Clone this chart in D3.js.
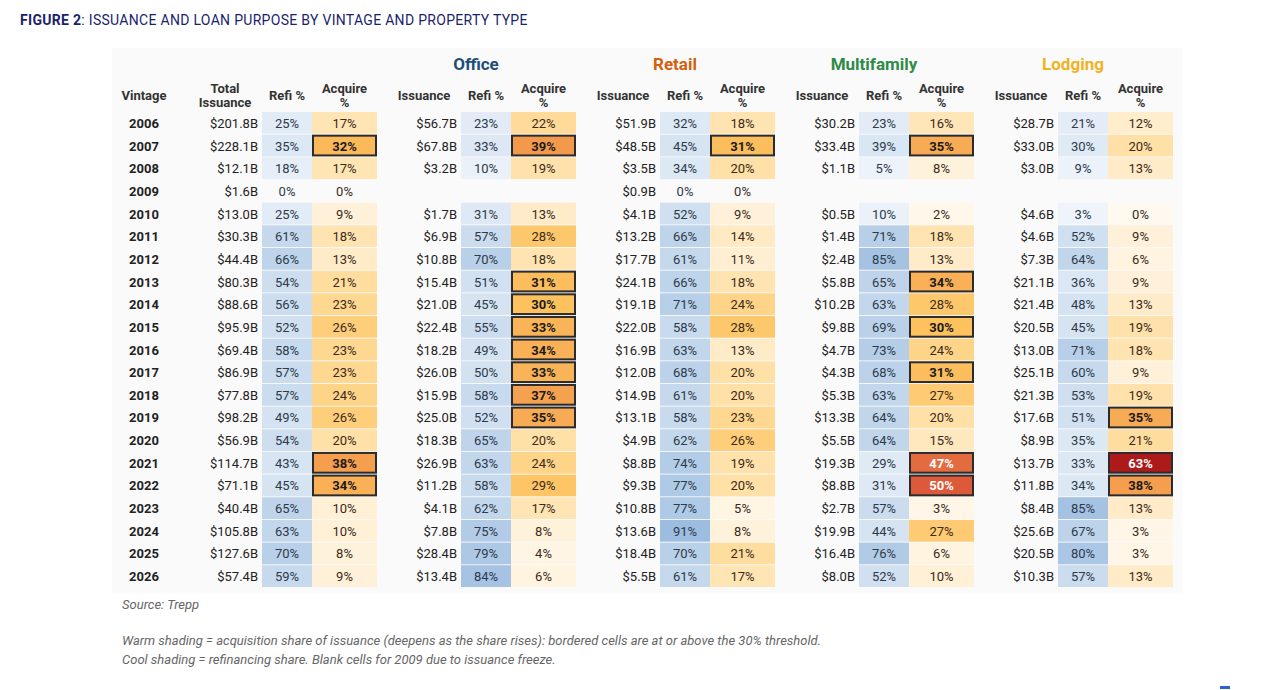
<!DOCTYPE html>
<html><head><meta charset="utf-8">
<script src="https://cdn.jsdelivr.net/npm/d3@7"></script>
<style>body{margin:0;background:#fff;font-family:Roboto,"Liberation Sans",sans-serif}</style>
</head><body>
<svg id="chart" width="1268" height="690"></svg>
<script>
(function () {

    const years = [2006,2007,2008,2009,2010,2011,2012,2013,2014,2015,2016,2017,2018,2019,2020,2021,2022,2023,2024,2025,2026];

    // issuance $B, refi %, acquire %  (null = blank)
    const totalIss = [201.8,228.1,12.1,1.6,13.0,30.3,44.4,80.3,88.6,95.9,69.4,86.9,77.8,98.2,56.9,114.7,71.1,40.4,105.8,127.6,57.4];
    const totalRefi = [25,35,18,0,25,61,66,54,56,52,58,57,57,49,54,43,45,65,63,70,59];
    const totalAcq = [17,32,17,0,9,18,13,21,23,26,23,23,24,26,20,38,34,10,10,8,9];

    const officeIss = [56.7,67.8,3.2,null,1.7,6.9,10.8,15.4,21.0,22.4,18.2,26.0,15.9,25.0,18.3,26.9,11.2,4.1,7.8,28.4,13.4];
    const officeRefi = [23,33,10,null,31,57,70,51,45,55,49,50,58,52,65,63,58,62,75,79,84];
    const officeAcq = [22,39,19,null,13,28,18,31,30,33,34,33,37,35,20,24,29,17,8,4,6];

    const retailIss = [51.9,48.5,3.5,0.9,4.1,13.2,17.7,24.1,19.1,22.0,16.9,12.0,14.9,13.1,4.9,8.8,9.3,10.8,13.6,18.4,5.5];
    const retailRefi = [32,45,34,0,52,66,61,66,71,58,63,68,61,58,62,74,77,77,91,70,61];
    const retailAcq = [18,31,20,0,9,14,11,18,24,28,13,20,20,23,26,19,20,5,8,21,17];

    const multiIss = [30.2,33.4,1.1,null,0.5,1.4,2.4,5.8,10.2,9.8,4.7,4.3,5.3,13.3,5.5,19.3,8.8,2.7,19.9,16.4,8.0];
    const multiRefi = [23,39,5,null,10,71,85,65,63,69,73,68,63,64,64,29,31,57,44,76,52];
    const multiAcq = [16,35,8,null,2,18,13,34,28,30,24,31,27,20,15,47,50,3,27,6,10];

    const lodgIss = [28.7,33.0,3.0,null,4.6,4.6,7.3,21.1,21.4,20.5,13.0,25.1,21.3,17.6,8.9,13.7,11.8,8.4,25.6,20.5,10.3];
    const lodgRefi = [21,30,9,null,3,52,64,36,48,45,71,60,53,51,35,33,34,85,67,80,57];
    const lodgAcq = [12,20,13,null,0,9,6,9,13,19,18,9,19,35,21,63,38,13,3,3,13];

    const groups = [
        { name: null, iss: totalIss, refi: totalRefi, acq: totalAcq, issLabel: ["Total", "Issuance"] },
        { name: "Office", color: "#1f4e79", iss: officeIss, refi: officeRefi, acq: officeAcq, issLabel: ["Issuance"] },
        { name: "Retail", color: "#d35f0f", iss: retailIss, refi: retailRefi, acq: retailAcq, issLabel: ["Issuance"] },
        { name: "Multifamily", color: "#2e8b47", iss: multiIss, refi: multiRefi, acq: multiAcq, issLabel: ["Issuance"] },
        { name: "Lodging", color: "#f0b323", iss: lodgIss, refi: lodgRefi, acq: lodgAcq, issLabel: ["Issuance"] },
    ];

    const svg = d3.select('#chart');

    svg.append('text').attr('x', 20).attr('y', 25)
        .attr('font-size', 14).attr('fill', '#1a1f6e').attr('letter-spacing', 0.3)
        .call(t => {
            t.append('tspan').attr('font-weight', 'bold').text('FIGURE 2');
            t.append('tspan').text(': ISSUANCE AND LOAN PURPOSE BY VINTAGE AND PROPERTY TYPE');
        });

    svg.append('rect').attr('x', 112).attr('y', 48).attr('width', 1070).attr('height', 545).attr('fill', '#fafafa');

    const y = d3.scaleBand().domain(years).range([112, 587]).paddingInner(0.04);
    const groupX = d3.scaleLinear().domain([0, 1]).range([262, 461]); // left of refi column per group

    const cool = d3.scaleLinear().domain([0, 50, 91]).range(['#f0f5fb', '#d3e2f1', '#9dbde0']);
    const warm = d3.scaleLinear().domain([0, 10, 20, 30, 39, 50, 63])
        .range(['#fff9ef', '#fff0d6', '#ffe0a6', '#fdc25e', '#f3994c', '#dc5a3a', '#ac1a1a']);

    svg.append('text').attr('x', 144).attr('y', 100).attr('text-anchor', 'middle')
        .attr('font-size', 13).attr('font-weight', 'bold').attr('fill', '#333').text('Vintage');

    svg.selectAll('.yr').data(years).enter().append('text')
        .attr('x', 144).attr('y', d => y(d) + y.bandwidth() / 2 + 5)
        .attr('text-anchor', 'middle').attr('font-size', 13).attr('font-weight', 'bold').attr('fill', '#222')
        .text(d => d);

    groups.forEach((g, gi) => {
        const x0 = groupX(gi);
        const refiW = 50, acqW = 65;
        const gg = svg.append('g');

        if (g.name) {
            gg.append('text').attr('x', x0 + 15).attr('y', 70).attr('text-anchor', 'middle')
                .attr('font-size', 17).attr('font-weight', 'bold').attr('fill', g.color).text(g.name);
        }
        const hdr = (x, lines) => {
            const t = gg.append('text').attr('x', x).attr('text-anchor', 'middle')
                .attr('font-size', 13).attr('font-weight', 'bold').attr('fill', '#333');
            const y0 = lines.length === 1 ? 100 : 93;
            lines.forEach((l, i) => t.append('tspan').attr('x', x).attr('y', y0 + i * 14).text(l));
        };
        hdr(x0 - 37, g.issLabel);
        hdr(x0 + refiW / 2, ['Refi %']);
        hdr(x0 + refiW + acqW / 2, ['Acquire', '%']);

        const rows = years.map((yr, i) => ({ yr, iss: g.iss[i], refi: g.refi[i], acq: g.acq[i] }));

        rows.forEach(r => {
            if (r.iss == null) return;
            const yy = y(r.yr), h = y.bandwidth(), cy = yy + h / 2 + 5;
            const shade = r.yr !== 2009;
            gg.append('text').attr('x', x0 - 4).attr('y', cy).attr('text-anchor', 'end')
                .attr('font-size', 13).attr('fill', '#222').text('$' + r.iss.toFixed(1) + 'B');
            if (shade) gg.append('rect').attr('x', x0).attr('y', yy).attr('width', refiW).attr('height', h).attr('fill', cool(r.refi));
            gg.append('text').attr('x', x0 + refiW / 2).attr('y', cy).attr('text-anchor', 'middle')
                .attr('font-size', 13).attr('fill', '#2d3a4a').text(r.refi + '%');
            const hi = r.acq >= 30;
            if (shade) gg.append('rect').attr('x', x0 + refiW + (hi ? 1 : 0)).attr('y', yy + (hi ? 1 : 0))
                .attr('width', acqW - (hi ? 2 : 0)).attr('height', h - (hi ? 2 : 0)).attr('fill', warm(r.acq))
                .attr('stroke', hi ? '#2b2b2b' : 'none').attr('stroke-width', hi ? 2 : 0);
            gg.append('text').attr('x', x0 + refiW + acqW / 2).attr('y', cy).attr('text-anchor', 'middle')
                .attr('font-size', 13).attr('font-weight', hi ? 'bold' : 'normal')
                .attr('fill', r.acq >= 45 ? '#fff' : (hi ? '#1a1a1a' : '#3a2a1a')).text(r.acq + '%');
        });
    });

    svg.append('text').attr('x', 122).attr('y', 609).attr('font-size', 13).attr('font-style', 'italic')
        .attr('fill', '#666').text('Source: Trepp');
    svg.append('text').attr('x', 122).attr('y', 645).attr('font-size', 13).attr('font-style', 'italic')
        .attr('fill', '#666').text('Warm shading = acquisition share of issuance (deepens as the share rises): bordered cells are at or above the 30% threshold.');
    svg.append('text').attr('x', 122).attr('y', 664).attr('font-size', 13).attr('font-style', 'italic')
        .attr('fill', '#666').text('Cool shading = refinancing share. Blank cells for 2009 due to issuance freeze.');
    svg.append('rect').attr('x', 1220).attr('y', 686).attr('width', 10).attr('height', 3).attr('fill', '#2f62c9');

})();
</script>
</body></html>
